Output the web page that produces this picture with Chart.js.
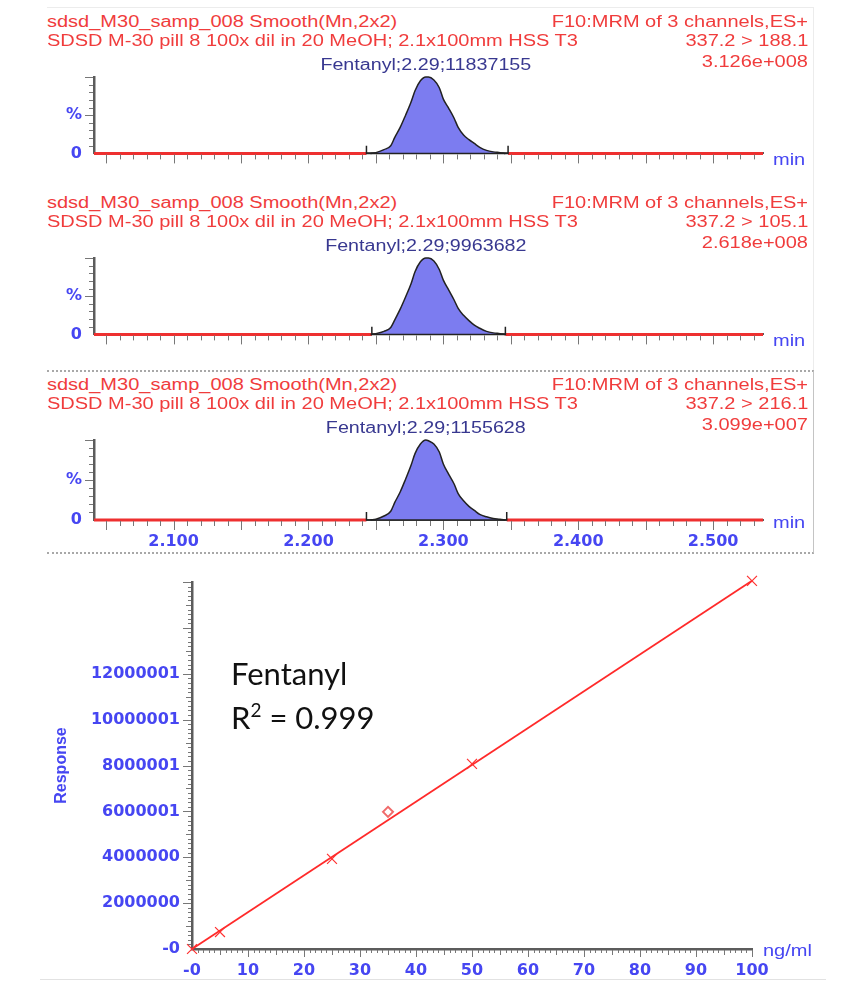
<!DOCTYPE html>
<html>
<head>
<meta charset="utf-8">
<title>Fentanyl MRM chromatograms and calibration curve</title>
<script src="https://cdn.jsdelivr.net/npm/chart.js@4.4.1/dist/chart.umd.min.js"></script>
<style>
body { margin: 0; background: #fff; }
#page { position: relative; width: 866px; height: 987px; overflow: hidden; font-family: "Liberation Sans", Arial, sans-serif; }
canvas { position: absolute; }
.hdr { position: absolute; font-size: 16px; line-height: 20px; color: #f03c3c; white-space: nowrap; }
.hdr.l { left: 47px; transform: scaleX(1.25); transform-origin: left center; }
.hdr.r { right: 58px; transform: scaleX(1.25); transform-origin: right center; }
.unit { position: absolute; font-size: 16px; line-height: 20px; color: #4646f2; white-space: nowrap; transform: scaleX(1.25); transform-origin: left center; }
.rule { position: absolute; }
.note { position: absolute; left: 231px; font-family: Lato, "Open Sans", sans-serif; font-size: 31px; line-height: 40px; color: #111; white-space: nowrap; }
.note sup { font-size: 19px; vertical-align: 12px; line-height: 0; }
</style>
</head>
<body>
<div id="page">
  <div class="rule" style="left:47px; top:7px; width:766px; border-top:1px solid #ececec;"></div>
  <div class="rule" style="left:813px; top:7px; height:364px; border-left:1px solid #ececec;"></div>
  <div class="rule" style="left:47px; top:370px; width:766px; height:180px; border-top:2px dotted #a8a8a8; border-bottom:2px dotted #a8a8a8; border-right:1px solid #c4c4c4;"></div>
  <div class="rule" style="left:40px; top:979px; width:786px; border-top:1px solid #e2e2e2;"></div>

  <canvas id="chrom0" width="780" height="125"></canvas>
  <canvas id="chrom1" width="780" height="125"></canvas>
  <canvas id="chrom2" width="780" height="141"></canvas>
  <canvas id="calib" width="800" height="425" style="left:40px; top:560px;"></canvas>

  <div class="note" style="top:653px;">Fentanyl</div>
  <div class="note" style="top:697px;">R<sup>2</sup> = 0.999</div>
  <div class="unit" style="left:763px; top:941px;">ng/ml</div>
</div>
<script>
// Chromatogram header text
const sampleName = 'sdsd_M30_samp_008 Smooth(Mn,2x2)';
const sampleDesc = 'SDSD M-30 pill 8 100x dil in 20 MeOH; 2.1x100mm HSS T3';
const functionName = 'F10:MRM of 3 channels,ES+';
const transitions = ['337.2 > 188.1', '337.2 > 105.1', '337.2 > 216.1'];
const maxIntensities = ['3.126e+008', '2.618e+008', '3.099e+007'];
const peakLabels = ['Fentanyl;2.29;11837155', 'Fentanyl;2.29;9963682', 'Fentanyl;2.29;1155628'];

// Peak traces (time in min, intensity in %)
const peakTimes = [2.246, 2.250, 2.256, 2.261, 2.264, 2.268, 2.272, 2.276, 2.279, 2.283, 2.287, 2.289, 2.293,
                   2.297, 2.300, 2.304, 2.308, 2.311, 2.315, 2.319, 2.323, 2.327, 2.332, 2.337, 2.342, 2.346];
const peak188 = [0, 1, 5, 10, 21, 34, 50, 67, 82, 95, 100, 100, 96, 86, 71, 59, 46, 34, 24, 18, 13, 8, 4, 2, 1, 0];
const peak105 = [0, 1, 4, 9, 19, 33, 49, 66, 82, 95, 100, 100, 96, 85, 71, 58, 45, 34, 25, 18, 12, 8, 4, 2, 1, 0];
const peak216 = [0, 1, 5, 11, 22, 35, 51, 68, 83, 95, 100, 99, 95, 85, 70, 57, 45, 33, 24, 17, 12, 7, 4, 2, 1, 0];
const integrationStart = [2.243, 2.247, 2.243];
const integrationEnd = [2.348, 2.346, 2.347];
const markerHeight = 10;

const timeMin = 2.041, timeMax = 2.537;
const timeTicks = [2.1, 2.2, 2.3, 2.4, 2.5];
const timeTickLabels = ['2.100', '2.200', '2.300', '2.400', '2.500'];
const percentTicks = [0, 50];
const percentTickLabels = ['0', '%'];

// Calibration curve
const concentrations = [0, 5, 25, 50, 100];
const responses = [0, 740000, 3930000, 8070000, 16050000];
const excludedConc = [35];
const excludedResp = [5980000];
const fitConc = [0, 100];
const fitResp = [0, 16050000];
const respTicks = [0, 2000000, 4000000, 6000000, 8000000, 10000000, 12000000];
const respTickLabels = ['-0', '2000000', '4000000', '6000001', '8000001', '10000001', '12000001'];
const concTicks = [0, 10, 20, 30, 40, 50, 60, 70, 80, 90, 100];
const concTickLabels = ['-0', '10', '20', '30', '40', '50', '60', '70', '80', '90', '100'];

const BLUE = '#4646f2';
const AXIS = '#5c5c5c';
const tickFont = { family: 'DejaVu Sans', size: 16, weight: 'bold' };

// minor / medium / major tick marks along both axes
const tickMarks = {
    id: 'tickMarks',
    afterDraw(chart, args, opts) {
        if (!opts || !opts.x) return;
        const ctx = chart.ctx;
        ctx.save();
        ctx.strokeStyle = opts.color;
        ctx.lineWidth = 1;
        for (const id of ['x', 'y']) {
            const o = opts[id];
            const s = chart.scales[id];
            const k0 = Math.round(o.from / o.step), k1 = Math.round(o.to / o.step);
            for (let k = k0; k <= k1; k++) {
                const len = k % o.major === 0 ? o.len[2] : (k % o.medium === 0 ? o.len[1] : o.len[0]);
                const p = Math.round(s.getPixelForValue(k * o.step)) + 0.5;
                ctx.beginPath();
                if (id === 'x') {
                    ctx.moveTo(p, s.top + 1);
                    ctx.lineTo(p, s.top + 1 + len);
                } else {
                    ctx.moveTo(s.right - 1, p);
                    ctx.lineTo(s.right - 1 - len, p);
                }
                ctx.stroke();
            }
        }
        ctx.restore();
    }
};

// compound label above the peak apex
const peakLabel = {
    id: 'peakLabel',
    afterDraw(chart, args, opts) {
        if (!opts || !opts.text) return;
        const data = chart.data.datasets[1].data;
        let apex = data[0];
        data.forEach(d => { if (d.y > apex.y) apex = d; });
        const ctx = chart.ctx;
        ctx.save();
        ctx.translate(chart.scales.x.getPixelForValue(apex.x), chart.chartArea.top - 11);
        ctx.scale(1.23, 1);
        ctx.font = '16px "Liberation Sans", Arial, sans-serif';
        ctx.fillStyle = '#383890';
        ctx.textAlign = 'center';
        ctx.textBaseline = 'middle';
        ctx.fillText(opts.text, 0, 0);
        ctx.restore();
    }
};

const panelZero = [157, 338, 520];
const peakSeries = [peak188, peak105, peak216];
const page = document.getElementById('page');

function addText(cls, text, top) {
    const d = document.createElement('div');
    d.className = cls;
    d.textContent = text;
    d.style.top = top + 'px';
    page.appendChild(d);
    return d;
}

peakSeries.forEach((vals, i) => {
    const z = panelZero[i];
    const withLabels = i === 2;
    const xHeight = withLabels ? 34 : 18;
    addText('hdr l', sampleName, z - 145);
    addText('hdr l', sampleDesc, z - 126);
    addText('hdr r', functionName, z - 145);
    addText('hdr r', transitions[i], z - 126);
    addText('hdr r', maxIntensities[i], z - 105);
    addText('unit', 'min', z - 7).style.left = '773px';

    const cv = document.getElementById('chrom' + i);
    cv.style.left = '40px';
    cv.style.top = (z - 107) + 'px';

    const s = integrationStart[i], e = integrationEnd[i];
    new Chart(cv.getContext('2d'), {
        type: 'line',
        data: {
            datasets: [{
                data: [{x: s, y: markerHeight}, {x: s, y: 0}, {x: e, y: 0}, {x: e, y: markerHeight}],
                borderColor: '#222',
                borderWidth: 1.5,
                pointRadius: 0,
                fill: false,
                clip: false
            }, {
                data: peakTimes.map((t, j) => ({x: t, y: vals[j]})),
                borderColor: '#222',
                borderWidth: 1.5,
                backgroundColor: '#7c7cf0',
                fill: 'origin',
                pointRadius: 0,
                cubicInterpolationMode: 'monotone',
                clip: false
            }, {
                data: [{x: timeMin, y: 0}, {x: s, y: 0}, {x: s, y: null}, {x: e, y: null}, {x: e, y: 0}, {x: timeMax, y: 0}],
                borderColor: '#ee3030',
                borderWidth: 3,
                pointRadius: 0,
                spanGaps: false,
                fill: false,
                clip: false
            }]
        },
        options: {
            responsive: false,
            animation: false,
            events: [],
            layout: { padding: { top: 27, right: 57, left: 0, bottom: 0 } },
            plugins: {
                legend: { display: false },
                tooltip: { enabled: false },
                peakLabel: { text: peakLabels[i] },
                tickMarks: {
                    color: '#777',
                    x: { from: 2.05, to: 2.53, step: 0.01, medium: 5, major: 5, len: [5, 9, 9] },
                    y: { from: 10, to: 100, step: 10, medium: 5, major: 5, len: [4, 8, 8] }
                }
            },
            scales: {
                x: {
                    type: 'linear',
                    min: timeMin,
                    max: timeMax,
                    afterBuildTicks: sc => { sc.ticks = timeTicks.map(v => ({value: v})); },
                    afterFit: sc => { sc.height = xHeight; },
                    grid: { display: false, drawTicks: false },
                    border: { color: AXIS, width: 2 },
                    ticks: {
                        display: withLabels,
                        autoSkip: false,
                        maxRotation: 0,
                        padding: 12,
                        color: BLUE,
                        font: tickFont,
                        callback: (v, idx) => timeTickLabels[idx]
                    }
                },
                y: {
                    min: 0,
                    max: 100,
                    afterBuildTicks: sc => { sc.ticks = percentTicks.map(v => ({value: v})); },
                    afterFit: sc => { sc.width = 54; },
                    grid: { display: false, drawTicks: false },
                    border: { color: AXIS, width: 2.5 },
                    ticks: {
                        padding: 12,
                        color: BLUE,
                        font: tickFont,
                        callback: (v, idx) => percentTickLabels[idx]
                    }
                }
            }
        },
        plugins: [tickMarks, peakLabel]
    });
});

// Calibration curve
const calibCtx = document.getElementById('calib').getContext('2d');
new Chart(calibCtx, {
    type: 'scatter',
    data: {
        datasets: [{
            label: 'Standards',
            data: concentrations.map((c, j) => ({x: c, y: responses[j]})),
            borderColor: '#ff3030',
            pointStyle: 'crossRot',
            pointRadius: 7,
            pointBorderWidth: 1.2,
            clip: false
        }, {
            label: 'Excluded',
            data: excludedConc.map((c, j) => ({x: c, y: excludedResp[j]})),
            borderColor: '#f06a6a',
            backgroundColor: 'rgba(0,0,0,0)',
            pointStyle: 'rectRot',
            pointRadius: 5,
            pointBorderWidth: 2,
            clip: false
        }, {
            label: 'Fit',
            data: fitConc.map((c, j) => ({x: c, y: fitResp[j]})),
            showLine: true,
            borderColor: '#ff2a2a',
            borderWidth: 1.8,
            pointRadius: 0,
            clip: false
        }]
    },
    options: {
        responsive: false,
        animation: false,
        events: [],
        layout: { padding: { top: 22, right: 88, left: 0, bottom: 0 } },
        plugins: {
            legend: { display: false },
            tooltip: { enabled: false },
            tickMarks: {
                color: '#777',
                x: { from: 1, to: 100, step: 1, medium: 5, major: 10, len: [3, 5, 7] },
                y: { from: 200000, to: 16000000, step: 200000, medium: 5, major: 10, len: [3, 5, 8] }
            }
        },
        scales: {
            x: {
                type: 'linear',
                min: 0,
                max: 100,
                afterBuildTicks: sc => { sc.ticks = concTicks.map(v => ({value: v})); },
                afterFit: sc => { sc.height = 36; },
                grid: { display: false, drawTicks: false },
                border: { color: AXIS, width: 2.5 },
                ticks: {
                    autoSkip: false,
                    maxRotation: 0,
                    padding: 12,
                    color: BLUE,
                    font: tickFont,
                    callback: (v, idx) => concTickLabels[idx]
                }
            },
            y: {
                type: 'linear',
                min: 0,
                max: 16000000,
                afterBuildTicks: sc => { sc.ticks = respTicks.map(v => ({value: v})); },
                afterFit: sc => { sc.width = 152; },
                grid: { display: false, drawTicks: false },
                border: { color: AXIS, width: 2.5 },
                title: {
                    display: true,
                    text: 'Response',
                    color: BLUE,
                    font: { family: 'Liberation Sans', size: 16, weight: 'bold' },
                    padding: { top: 12, bottom: 0 }
                },
                ticks: {
                    padding: 12,
                    color: BLUE,
                    font: tickFont,
                    callback: (v, idx) => respTickLabels[idx]
                }
            }
        }
    },
    plugins: [tickMarks]
});
</script>
</body>
</html>
